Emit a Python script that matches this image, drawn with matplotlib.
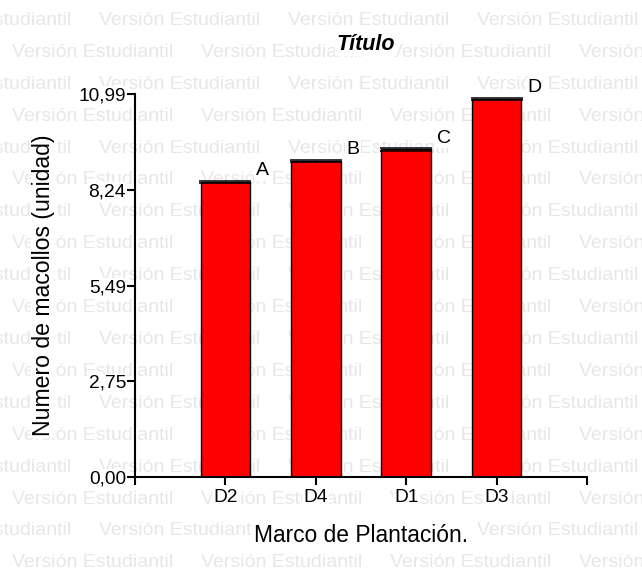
import matplotlib
matplotlib.use('Agg')
import matplotlib.pyplot as plt

categories = ['D2', 'D4', 'D1', 'D3']
means = [8.46, 9.07, 9.40, 10.85]
errors = [0.03, 0.03, 0.03, 0.03]
letters = ['A', 'B', 'C', 'D']
y_ticks = [0.00, 2.75, 5.49, 8.24, 10.99]

plt.rcParams['font.family'] = ['Liberation Sans', 'DejaVu Sans']

W, H = 642, 571
fig = plt.figure(figsize=(W / 100, H / 100), dpi=100)

# watermark rows behind everything
wm = 'Versión Estudiantil'
for n in range(18):
    base = 25 + 31.9 * n
    start = (99 if n % 2 == 0 else 12) - 189
    for k in range(5):
        fig.text((start + 189 * k) / W, 1 - base / H, wm, fontsize=14,
                 color='#e7e7e7', ha='left', va='baseline', zorder=-5)

white = dict(facecolor='white', edgecolor='none', pad=1)

ax = fig.add_axes([135 / W, 1 - 477.3 / H, 452 / W, 383.3 / H])
ax.set_facecolor('none')

x = list(range(1, len(categories) + 1))
ax.bar(x, means, width=0.55, color='#ff0000', edgecolor='black',
       linewidth=1.0, zorder=2)
ax.errorbar(x, means, yerr=errors, fmt='none', ecolor='black', elinewidth=0.8,
            capsize=18.6, capthick=1.1, zorder=3)

for xi, m, lt in zip(x, means, letters):
    ax.annotate(lt, (xi + 0.275, m), xytext=(4, 5), textcoords='offset points',
                fontsize=14, ha='left', va='baseline', bbox=white, zorder=4)

ax.set_xlim(0, len(categories) + 1)
ax.set_ylim(0, 10.99)
ax.set_xticks(x)
ax.set_xticklabels(categories)
ax.set_xticks([0, len(categories) + 1], minor=True)
ax.set_yticks(y_ticks)
ax.set_yticklabels([f'{v:.2f}'.replace('.', ',') for v in y_ticks])

for s in ['top', 'right']:
    ax.spines[s].set_visible(False)
for s in ['left', 'bottom']:
    ax.spines[s].set_linewidth(1.5)

ax.tick_params(which='both', direction='out', length=5.5, width=1.5,
               labelsize=13.8, colors='black')
ax.tick_params(axis='y', pad=1)
ax.tick_params(axis='x', pad=3)
for lab in ax.get_xticklabels() + ax.get_yticklabels():
    lab.set_bbox(white)

ax.set_xlabel('Marco de Plantación.', fontsize=16.4, va='baseline', bbox=white)
ax.xaxis.set_label_coords(0.5, (477.3 - 541.7) / 383.3)
ax.set_ylabel('Numero de macollos (unidad)', fontsize=16.6, va='baseline',
              bbox=white)
ax.yaxis.set_label_coords((50 - 135) / 452, 0.5)

fig.text(366 / W, 1 - 50 / H, 'Título', fontsize=15.5, fontweight='bold',
         fontstyle='italic', ha='center', va='baseline', bbox=white, zorder=5)

fig.savefig('out.png', dpi=100)
